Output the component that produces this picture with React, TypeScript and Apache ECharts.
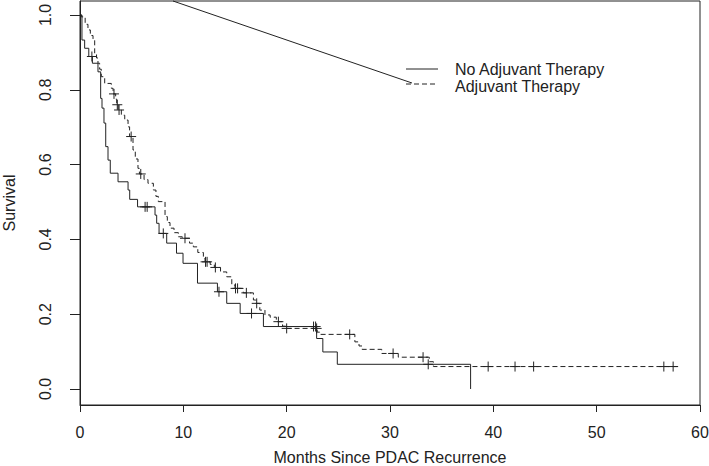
import React, { useEffect, useRef } from "react";
import * as echarts from "echarts";

// Kaplan–Meier step points (time in months, survival)
const noAdjTimes = [0, 0.19, 0.45, 0.85, 1.2, 1.74, 2.0, 2.13, 2.32, 2.49, 2.71, 2.93, 3.68, 4.65, 4.81, 5.57, 7.26, 7.42, 7.65, 8.39, 9.34, 9.97, 11.37, 13.3, 14.2, 15.5, 17.75, 22.9, 23.5, 24.9, 37.8];
const noAdjSurv = [1.0, 0.933, 0.911, 0.889, 0.871, 0.848, 0.777, 0.751, 0.711, 0.648, 0.612, 0.577, 0.554, 0.532, 0.507, 0.487, 0.465, 0.443, 0.416, 0.39, 0.363, 0.336, 0.283, 0.26, 0.229, 0.202, 0.167, 0.135, 0.099, 0.066, 0.0];
const noAdjCensorTimes = [1.15, 6.3, 6.5, 8.06, 13.45, 16.6, 22.6, 22.8, 33.7];
const noAdjCensorSurv = [0.889, 0.487, 0.487, 0.416, 0.26, 0.202, 0.167, 0.167, 0.066];

const adjTimes = [0, 0.13, 0.5, 0.77, 1.0, 1.26, 1.42, 1.6, 1.74, 1.9, 2.06, 2.39, 3.03, 3.2, 3.45, 3.55, 3.7, 4.0, 4.33, 4.65, 4.8, 5.13, 5.35, 5.61, 5.75, 6.2, 6.58, 7.1, 7.35, 7.58, 8.23, 8.45, 8.71, 9.1, 9.52, 9.9, 10.6, 10.97, 11.4, 11.94, 12.1, 12.6, 13.0, 13.6, 14.2, 14.69, 15.0, 15.8, 16.78, 17.0, 17.4, 17.9, 18.4, 19.0, 19.6, 19.9, 22.95, 23.2, 26.6, 27.0, 27.3, 29.2, 30.8, 33.8, 34.2, 58.0];
const adjSurv = [1.0, 0.995, 0.975, 0.96, 0.945, 0.933, 0.898, 0.885, 0.871, 0.855, 0.835, 0.817, 0.804, 0.789, 0.775, 0.76, 0.746, 0.732, 0.719, 0.701, 0.675, 0.639, 0.615, 0.59, 0.575, 0.56, 0.55, 0.532, 0.515, 0.501, 0.461, 0.445, 0.43, 0.418, 0.407, 0.403, 0.39, 0.38, 0.365, 0.349, 0.34, 0.333, 0.325, 0.313, 0.3, 0.278, 0.269, 0.257, 0.238, 0.229, 0.211, 0.198, 0.192, 0.18, 0.168, 0.162, 0.152, 0.146, 0.126, 0.115, 0.106, 0.095, 0.085, 0.073, 0.06, 0.06];
const adjCensorTimes = [3.29, 3.61, 3.78, 4.95, 5.88, 10.16, 12.15, 12.3, 13.1, 15.05, 15.25, 16.1, 17.1, 19.2, 20.0, 22.9, 26.1, 30.3, 33.2, 39.5, 42.1, 43.9, 56.5, 57.4];
const adjCensorSurv = [0.789, 0.76, 0.746, 0.675, 0.575, 0.403, 0.34, 0.34, 0.325, 0.269, 0.269, 0.257, 0.229, 0.18, 0.162, 0.162, 0.146, 0.095, 0.085, 0.06, 0.06, 0.06, 0.06, 0.06];

const xTicks = [0, 10, 20, 30, 40, 50, 60];
const yTicks = [0, 0.2, 0.4, 0.6, 0.8, 1.0];
const legendLabels = ["No Adjuvant Therapy", "Adjuvant Therapy"];

const FONT = "'Liberation Sans', Arial, Helvetica, sans-serif";
const INK = "#222";

function zip(a: number[], b: number[]) {
  return a.map((v, i) => [v, b[i]]);
}

export default function App() {
  const ref = useRef<HTMLDivElement>(null);
  useEffect(() => {
    if (!ref.current) return;
    const chart = echarts.init(ref.current, null, { renderer: "svg" });
    const cross = (params: any, api: any) => {
      const p = api.coord([api.value(0), api.value(1)]);
      const h = 5;
      return {
        type: "group",
        children: [
          { type: "line", shape: { x1: p[0] - h, y1: p[1], x2: p[0] + h, y2: p[1] }, style: { stroke: INK, lineWidth: 1 } },
          { type: "line", shape: { x1: p[0], y1: p[1] - h, x2: p[0], y2: p[1] + h }, style: { stroke: INK, lineWidth: 1 } },
        ],
      };
    };
    chart.setOption({
      animation: false,
      backgroundColor: "#fff",
      grid: {
        left: 80,
        right: 9,
        top: 1,
        bottom: 61,
        show: true,
        borderColor: INK,
        borderWidth: 1,
        backgroundColor: "transparent",
        containLabel: false,
        outerBoundsMode: "none",
      },
      xAxis: {
        type: "value",
        min: 0,
        max: 60,
        interval: 10,
        name: "Months Since PDAC Recurrence",
        nameLocation: "middle",
        nameGap: 44,
        nameTextStyle: { fontFamily: FONT, fontSize: 16, color: INK },
        axisLine: { show: true, onZero: false, lineStyle: { color: INK } },
        axisTick: { show: true, length: 7, lineStyle: { color: INK }, customValues: xTicks },
        axisLabel: { fontFamily: FONT, fontSize: 16, color: INK, margin: 19, customValues: xTicks },
        splitLine: { show: false },
      },
      yAxis: {
        type: "value",
        min: -0.0428,
        max: 1.0374,
        name: "Survival",
        nameLocation: "middle",
        nameGap: 63,
        nameRotate: 90,
        nameTextStyle: { fontFamily: FONT, fontSize: 16, color: INK },
        axisLine: { show: true, onZero: false, lineStyle: { color: INK } },
        axisTick: { show: true, length: 10, lineStyle: { color: INK }, customValues: yTicks },
        axisLabel: {
          fontFamily: FONT,
          fontSize: 16,
          color: INK,
          rotate: 90,
          margin: 27,
          customValues: yTicks,
          formatter: (v: number) => v.toFixed(1),
        },
        splitLine: { show: false },
      },
      series: [
        {
          name: legendLabels[0],
          type: "line",
          step: "end",
          symbol: "none",
          data: zip(noAdjTimes, noAdjSurv),
          lineStyle: { color: INK, width: 1 },
        },
        {
          name: legendLabels[1],
          type: "line",
          step: "end",
          symbol: "none",
          data: zip(adjTimes, adjSurv),
          lineStyle: { color: INK, width: 1, type: [5, 3] },
        },
        {
          type: "custom",
          renderItem: cross,
          encode: { x: 0, y: 1 },
          data: zip(noAdjCensorTimes, noAdjCensorSurv),
        },
        {
          type: "custom",
          renderItem: cross,
          encode: { x: 0, y: 1 },
          data: zip(adjCensorTimes, adjCensorSurv),
        },
      ],
      graphic: [
        { type: "line", shape: { x1: 173, y1: 1, x2: 412, y2: 83 }, style: { stroke: INK, lineWidth: 1 } },
        { type: "line", shape: { x1: 406, y1: 69, x2: 438, y2: 69 }, style: { stroke: INK, lineWidth: 1 } },
        { type: "line", shape: { x1: 406, y1: 84, x2: 438, y2: 84 }, style: { stroke: INK, lineWidth: 1, lineDash: [5, 3] } },
        { type: "text", x: 455, y: 69, style: { text: legendLabels[0], font: `16px ${FONT}`, fill: INK, verticalAlign: "middle", lineHeight: 16 } },
        { type: "text", x: 455, y: 86, style: { text: legendLabels[1], font: `16px ${FONT}`, fill: INK, verticalAlign: "middle", lineHeight: 16 } },
      ],
    });
    return () => chart.dispose();
  }, []);
  return <div ref={ref} style={{ position: "fixed", left: 0, top: 0, width: 709, height: 466 }} />;
}
